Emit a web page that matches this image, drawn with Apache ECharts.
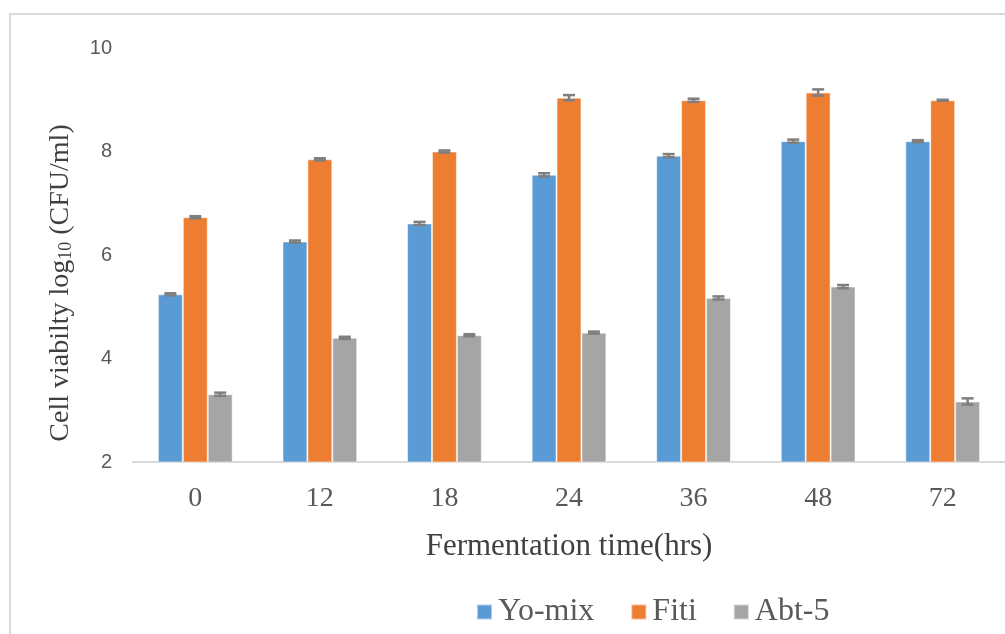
<!DOCTYPE html>
<html><head><meta charset="utf-8">
<script src="https://cdn.jsdelivr.net/npm/echarts@6/dist/echarts.min.js"></script>
<style>html,body{margin:0;padding:0;background:#fff}#c{width:1005px;height:634px}</style>
</head><body><div id="c"></div>
<script>
const categories = ['0','12','18','24','36','48','72'];
const yoMix = [5.24, 6.26, 6.61, 7.55, 7.92, 8.20, 8.20];
const fiti  = [6.73, 7.85, 8.00, 9.04, 8.99, 9.14, 8.99];
const abt5  = [3.31, 4.40, 4.45, 4.50, 5.17, 5.39, 3.17];
const yoMixErr = [0.02, 0.02, 0.03, 0.03, 0.03, 0.03, 0.02];
const fitiErr  = [0.02, 0.02, 0.02, 0.05, 0.03, 0.06, 0.01];
const abt5Err  = [0.03, 0.02, 0.02, 0.02, 0.03, 0.03, 0.06];
const yTicks = [2, 4, 6, 8, 10];

const names = ['Yo-mix', 'Fiti', 'Abt-5'];
const colors = ['#5b9bd5', '#ed7d31', '#a5a5a5'];
const values = [yoMix, fiti, abt5];
const errs = [yoMixErr, fitiErr, abt5Err];
const catGap = 0.40;

const chart = echarts.init(document.getElementById('c'));
const series = [];
names.forEach((n, i) => {
  series.push({
    name: n, type: 'bar', data: values[i], barGap: '0%', barCategoryGap: (catGap*100)+'%',
    itemStyle: { color: colors[i], borderColor: 'rgba(255,255,255,0.5)', borderWidth: 1 },
    z: 2
  });
});
names.forEach((n, i) => {
  series.push({
    type: 'custom', name: n + ' err', z: 5, silent: true,
    data: categories.map((c, k) => [k, values[i][k], errs[i][k]]),
    renderItem: function (params, api) {
      const k = api.value(0), v = api.value(1), e = api.value(2);
      const bandW = api.size([1, 0])[0];
      const bw = bandW * (1 - catGap) / 3;
      const c = api.coord([k, v]);
      const x = c[0] + (i - 1) * bw;
      const yTop = api.coord([k, v + e])[1];
      const yBot = api.coord([k, v - e])[1];
      const hw = 6;
      const st = { stroke: '#7f7f7f', lineWidth: 2.5 };
      return { type: 'group', children: [
        { type: 'line', shape: { x1: x, y1: yTop, x2: x, y2: yBot }, style: st },
        { type: 'line', shape: { x1: x - hw, y1: yTop, x2: x + hw, y2: yTop }, style: st },
        { type: 'line', shape: { x1: x - hw, y1: yBot, x2: x + hw, y2: yBot }, style: st }
      ]};
    }
  });
});

chart.setOption({
  animation: false,
  backgroundColor: '#fff',
  grid: { left: 133, top: 48, right: -12, bottom: 172, containLabel: false },
  graphic: [{
    type: 'rect', silent: true, z: -10,
    shape: { x: 10, y: 14, width: 1100, height: 700 },
    style: { fill: 'none', stroke: '#d9d9d9', lineWidth: 2 }
  }],
  legend: {
    data: names, top: 596, left: 476, itemWidth: 15, itemHeight: 15, itemGap: 36,
    icon: 'rect', padding: 0,
    textStyle: { fontFamily: 'Liberation Serif', fontSize: 32, color: '#595959', padding: [0, 0, 0, 1] }
  },
  xAxis: {
    type: 'category', data: categories,
    axisLine: { lineStyle: { color: '#d9d9d9', width: 2 } },
    axisTick: { show: false },
    axisLabel: { fontFamily: 'Liberation Serif', fontSize: 28, color: '#595959', margin: 23 },
    name: 'Fermentation time(hrs)', nameLocation: 'middle', nameGap: 69,
    nameTextStyle: { fontFamily: 'Liberation Serif', fontSize: 31, color: '#404040' }
  },
  yAxis: {
    type: 'value', min: yTicks[0], max: yTicks[yTicks.length - 1], interval: 2,
    splitLine: { show: false }, axisLine: { show: false }, axisTick: { show: false },
    axisLabel: { fontFamily: 'Liberation Sans', fontSize: 20, color: '#595959', margin: 21 },
    name: '{a|Cell viabilty log}{s|10}{a| (CFU/ml)}', nameLocation: 'middle', nameGap: 58, nameRotate: 90,
    nameTextStyle: {
      padding: [0, 56, 0, 0],
      rich: {
        a: { fontFamily: 'Liberation Serif', fontSize: 28, color: '#404040', verticalAlign: 'bottom', lineHeight: 31 },
        s: { fontFamily: 'Liberation Serif', fontSize: 18, color: '#404040', verticalAlign: 'bottom', lineHeight: 23 }
      }
    }
  },
  series: series
});
</script></body></html>
